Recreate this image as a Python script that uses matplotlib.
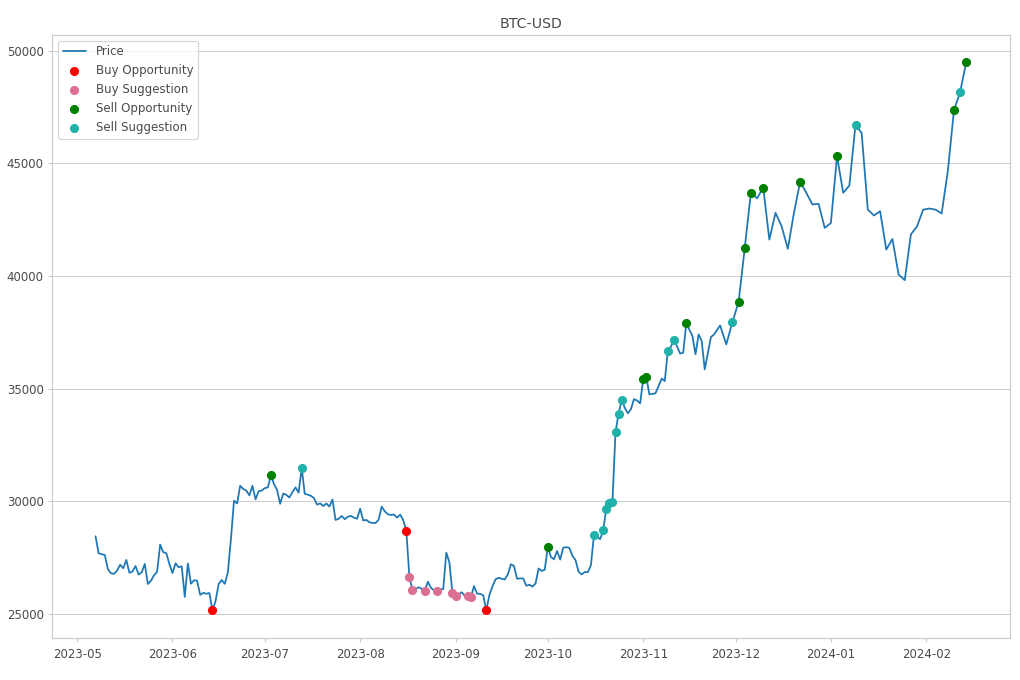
import pandas as pd
import matplotlib.pyplot as plt

# daily closes from 2023-05-07 to 2023-10-31
daily_start = "2023-05-07"
daily_prices = [
    # May 7-31
    28450, 27695, 27655, 27620, 27000, 26805, 26785, 26930, 27190, 27030,
    27400, 26830, 26890, 27130, 26750, 26850, 27225, 26335, 26475, 26720,
    26870, 28085, 27745, 27700, 27220,
    # Jun
    26820, 27250, 27075, 27120, 25760, 27240, 26345, 26500, 26480, 25850,
    25940, 25900, 25930, 25160, 25575, 26330, 26510, 26340, 26850, 28330,
    30030, 29910, 30695, 30550, 30480, 30270, 30690, 30090, 30450, 30480,
    # Jul
    30590, 30620, 31156, 30767, 30505, 29895, 30346, 30292, 30171, 30415,
    30620, 30391, 31476, 30335, 30295, 30249, 30145, 29856, 29913, 29793,
    29908, 29771, 30084, 29176, 29228, 29354, 29210, 29319, 29357, 29275,
    29230,
    # Aug
    29676, 29152, 29178, 29075, 29043, 29041, 29180, 29766, 29561, 29429,
    29397, 29416, 29283, 29408, 29170, 28701, 26664, 26049, 26096, 26189,
    26124, 26031, 26431, 26163, 26048, 26008, 26089, 26106, 27728, 27297,
    25931,
    # Sep
    25800, 25869, 25969, 25812, 25779, 25753, 26241, 25905, 25895, 25833,
    25163, 25835, 26229, 26539, 26608, 26568, 26535, 26754, 27211, 27132,
    26567, 26580, 26580, 26256, 26298, 26217, 26352, 27021, 26912, 26968,
    # Oct
    27984, 27531, 27430, 27799, 27415, 27946, 27968, 27936, 27584, 27392,
    26874, 26757, 26862, 26861, 27160, 28519, 28415, 28328, 28720, 29683,
    29918, 29993, 33086, 33901, 34502, 34157, 33909, 34090, 34538, 34480,
    34350,
]

late_dates = [
    "2023-11-01", "2023-11-02", "2023-11-03", "2023-11-04", "2023-11-05",
    "2023-11-07", "2023-11-08", "2023-11-09", "2023-11-10", "2023-11-11",
    "2023-11-12", "2023-11-13", "2023-11-14", "2023-11-15", "2023-11-17",
    "2023-11-18", "2023-11-19", "2023-11-20", "2023-11-21", "2023-11-23",
    "2023-11-24", "2023-11-26", "2023-11-28", "2023-11-30", "2023-12-02",
    "2023-12-04", "2023-12-06", "2023-12-08", "2023-12-10", "2023-12-12",
    "2023-12-14", "2023-12-16", "2023-12-18", "2023-12-20", "2023-12-22",
    "2023-12-24", "2023-12-26", "2023-12-28", "2023-12-30", "2024-01-01",
    "2024-01-03", "2024-01-05", "2024-01-07", "2024-01-09", "2024-01-11",
    "2024-01-13", "2024-01-15", "2024-01-17", "2024-01-19", "2024-01-21",
    "2024-01-23", "2024-01-25", "2024-01-27", "2024-01-29", "2024-01-31",
    "2024-02-02", "2024-02-04", "2024-02-06", "2024-02-08", "2024-02-10",
    "2024-02-12", "2024-02-14",
]
late_prices = [
    35420, 35530, 34750, 34770, 34800,
    35450, 35340, 36670, 36870, 37150,
    36890, 36560, 36600, 37900, 37340,
    36530, 37410, 37120, 35860, 37290,
    37410, 37810, 36970, 37960, 38850,
    41240, 43710, 43450, 43930, 41620,
    42810, 42210, 41210, 42810, 44190,
    43700, 43180, 43210, 42140, 42360,
    45320, 43700, 44020, 46720, 46350,
    42950, 42690, 42880, 41180, 41650,
    40070, 39820, 41850, 42210, 42950,
    43000, 42950, 42780, 44650, 47360,
    48170, 49500,
]

buy_opportunity = ["2023-06-14", "2023-08-16", "2023-09-11"]
buy_suggestion = ["2023-08-17", "2023-08-18", "2023-08-22", "2023-08-26",
                  "2023-08-31", "2023-09-01", "2023-09-05", "2023-09-06"]
sell_opportunity = ["2023-07-03", "2023-10-01", "2023-11-01", "2023-11-02",
                    "2023-11-15", "2023-12-02", "2023-12-04", "2023-12-06",
                    "2023-12-10", "2023-12-22", "2024-01-03", "2024-02-10",
                    "2024-02-14"]
sell_suggestion = ["2023-07-13", "2023-10-16", "2023-10-19", "2023-10-20",
                   "2023-10-21", "2023-10-22", "2023-10-23", "2023-10-24",
                   "2023-10-25", "2023-11-09", "2023-11-11", "2023-11-30",
                   "2024-01-09", "2024-02-12"]

plt.style.use("seaborn-v0_8-whitegrid")
plt.rcParams["font.family"] = "DejaVu Sans"
plt.rcParams["text.color"] = "#4a4a4a"

dates = list(pd.date_range(daily_start, periods=len(daily_prices), freq="D"))
dates += list(pd.to_datetime(late_dates))
price = pd.Series(daily_prices + late_prices, index=pd.DatetimeIndex(dates))

fig, ax = plt.subplots(figsize=(12, 8), dpi=85)
ax.plot(price.index, price.values, color="#1f77b4", linewidth=1.5, label="Price")

markers = [
    ("Buy Opportunity", buy_opportunity, "red"),
    ("Buy Suggestion", buy_suggestion, "palevioletred"),
    ("Sell Opportunity", sell_opportunity, "green"),
    ("Sell Suggestion", sell_suggestion, "lightseagreen"),
]
for label, days, color in markers:
    idx = pd.to_datetime(days)
    ax.scatter(idx, price.loc[idx].values, s=45, color=color, label=label, zorder=3)

ax.set_title("BTC-USD", color="#4a4a4a", fontsize=12)
ax.xaxis.grid(False)
ax.tick_params(axis="both", length=3.5, width=1, color="#cccccc",
               labelcolor="#4a4a4a", labelsize=10)
ax.tick_params(axis="x", pad=5)
ax.legend(loc="upper left", frameon=True)
fig.subplots_adjust(left=0.051, right=0.990, top=0.949, bottom=0.062)
plt.savefig("out.png")
plt.close()
